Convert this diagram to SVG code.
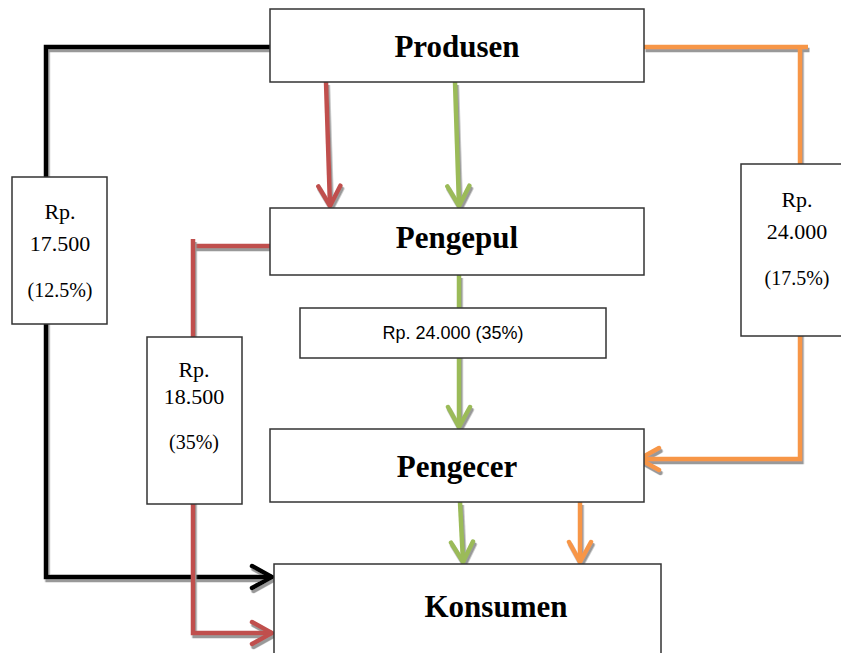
<svg xmlns="http://www.w3.org/2000/svg" width="841" height="653" viewBox="0 0 841 653">
<style>
.box{fill:#fff;stroke:#333;stroke-width:1.5}
.title{font-family:"Liberation Serif","Times New Roman",serif;font-weight:bold;font-size:31px;fill:#000;text-anchor:middle}
.lbl{font-family:"Liberation Serif","Times New Roman",serif;font-size:22px;fill:#000;text-anchor:middle}
.pct{font-family:"Liberation Serif","Times New Roman",serif;font-size:20px;fill:#000;text-anchor:middle}
.sans{font-family:"Liberation Sans",Arial,sans-serif;font-size:18px;fill:#000;text-anchor:middle}
.ln{fill:none;stroke-width:4.5;stroke-linejoin:miter;filter:url(#sh)}
.red{stroke:#C0504D}.grn{stroke:#9BBB59}.org{stroke:#F79646}.blk{stroke:#000}
</style>
<defs>
<filter id="sh" filterUnits="userSpaceOnUse" x="0" y="0" width="841" height="653">
<feDropShadow dx="1.5" dy="3" stdDeviation="0.4" flood-color="#999" flood-opacity="1"/>
</filter>
<marker id="aR" viewBox="-24 -14 28 28" markerWidth="28" markerHeight="28" refX="0" refY="0" orient="auto" markerUnits="userSpaceOnUse"><path d="M-20,-11 L0,0 L-20,11" fill="none" stroke="#C0504D" stroke-width="4.5" stroke-linecap="round"/></marker>
<marker id="aG" viewBox="-24 -14 28 28" markerWidth="28" markerHeight="28" refX="0" refY="0" orient="auto" markerUnits="userSpaceOnUse"><path d="M-20,-11 L0,0 L-20,11" fill="none" stroke="#9BBB59" stroke-width="4.5" stroke-linecap="round"/></marker>
<marker id="aO" viewBox="-24 -14 28 28" markerWidth="28" markerHeight="28" refX="0" refY="0" orient="auto" markerUnits="userSpaceOnUse"><path d="M-20,-11 L0,0 L-20,11" fill="none" stroke="#F79646" stroke-width="4.5" stroke-linecap="round"/></marker>
<marker id="aB" viewBox="-24 -14 28 28" markerWidth="28" markerHeight="28" refX="0" refY="0" orient="auto" markerUnits="userSpaceOnUse"><path d="M-20,-11 L0,0 L-20,11" fill="none" stroke="#000" stroke-width="4.5" stroke-linecap="round"/></marker>
</defs>
<rect width="841" height="653" fill="#fff"/>
<g id="connectors">
<path class="ln blk" d="M270,47 H46 V577 H272" marker-end="url(#aB)"/>
<path class="ln org" d="M644,47 H808"/>
<path class="ln org" d="M800,49 V459 H639" marker-end="url(#aO)"/>
<path class="ln red" d="M270,246 H193"/>
<path class="ln red" d="M193,239 V633 H272" marker-end="url(#aR)"/>
<path class="ln red" d="M326,82 L330,206" marker-end="url(#aR)"/>
<path class="ln grn" d="M455,82 L459,206" marker-end="url(#aG)"/>
<path class="ln grn" d="M459,275 V427" marker-end="url(#aG)"/>
<path class="ln grn" d="M460,502 L463,562" marker-end="url(#aG)"/>
<path class="ln org" d="M580,502 V562" marker-end="url(#aO)"/>
</g>
<g id="produsen"><rect class="box" x="270" y="9" width="374" height="73"/><text class="title" x="457" y="57">Produsen</text></g>
<g id="pengepul"><rect class="box" x="270" y="208" width="374" height="67"/><text class="title" x="457" y="248">Pengepul</text></g>
<g id="pengecer"><rect class="box" x="270" y="429" width="374" height="73"/><text class="title" x="457" y="477">Pengecer</text></g>
<g id="konsumen"><rect class="box" x="274" y="564" width="387" height="100"/><text class="title" x="496" y="617">Konsumen</text></g>
<g id="label-left"><rect class="box" x="12" y="177" width="95" height="147"/><text class="lbl" x="60" y="219">Rp.</text><text class="lbl" x="60" y="251">17.500</text><text class="pct" x="60" y="297">(12.5%)</text></g>
<g id="label-mid"><rect class="box" x="147" y="337" width="95" height="167"/><text class="lbl" x="194" y="377">Rp.</text><text class="lbl" x="194" y="404">18.500</text><text class="pct" x="194" y="449">(35%)</text></g>
<g id="label-right"><rect class="box" x="741" y="164" width="112" height="172"/><text class="lbl" x="797" y="207">Rp.</text><text class="lbl" x="797" y="239">24.000</text><text class="pct" x="797" y="285">(17.5%)</text></g>
<g id="label-center"><rect class="box" x="300" y="308" width="306" height="50"/><text class="sans" x="453" y="339">Rp. 24.000 (35%)</text></g>
</svg>
